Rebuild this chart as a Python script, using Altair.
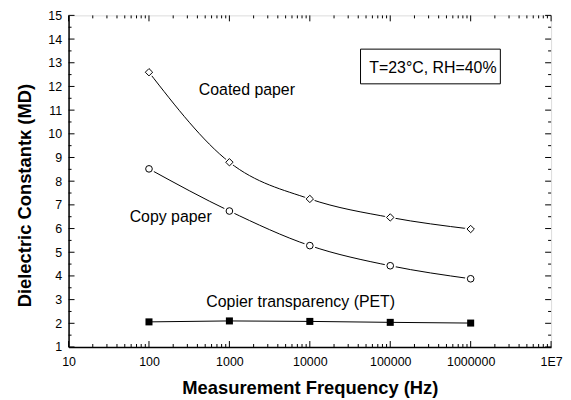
import altair as alt
import pandas as pd

freq = [100, 1000, 10000, 100000, 1000000]
coated = [12.6, 8.8, 7.25, 6.47, 5.98]
copy = [8.52, 6.74, 5.28, 4.43, 3.88]
pet = [2.06, 2.1, 2.08, 2.04, 2.01]

x_major = [10, 100, 1000, 10000, 100000, 1000000, 10000000]
y_major = list(range(1, 16))

ann_text = ["Coated paper", "Copy paper", "Copier transparency (PET)", "T=23°C, RH=40%"]
ann_x = [1650, 186, 7700, 339000]
ann_y = [11.86, 6.49, 2.89, 12.78]
box_x = [42700, 2340000]
box_y = [13.575, 12.11]

W, H = 486, 334
FONT = "Liberation Sans"

xs = alt.Scale(type="log", domain=[10, 1e7])
ys = alt.Scale(domain=[1, 15])

AX = alt.Axis(
    values=x_major, ticks=False, grid=False, title="Measurement Frequency (Hz)",
    labelExpr="datum.value >= 1e7 ? '1E7' : format(datum.value, 'd')",
    labelFont=FONT, labelFontSize=12.5, labelColor="black", labelPadding=9, labelOverlap=False,
    titleFont=FONT, titleFontSize=18.5, titleFontWeight="bold", titleColor="black", titlePadding=10,
    domainColor="black", domainWidth=1.5, labelFlush=False)
AY = alt.Axis(
    values=y_major, ticks=False, grid=False, title="Dielectric Constantκ (MD)",
    labelFont=FONT, labelFontSize=12.5, labelColor="black", labelPadding=7, labelOverlap=False,
    titleFont=FONT, titleFontSize=18.5, titleFontWeight="bold", titleColor="black",
    titleX=-34, titleY=181,
    domainColor="black", domainWidth=1.5)

df_c = pd.DataFrame({"f": freq, "v": coated})
df_p = pd.DataFrame({"f": freq, "v": copy})
df_t = pd.DataFrame({"f": freq, "v": pet})

XN = alt.X("f:Q", scale=xs, axis=AX)
YN = alt.Y("v:Q", scale=ys, axis=AY)

line_c = alt.Chart(df_c).mark_line(interpolate="monotone", color="black", strokeWidth=1).encode(x=XN, y=YN)
line_p = alt.Chart(df_p).mark_line(interpolate="monotone", color="black", strokeWidth=1).encode(x=XN, y=YN)
line_t = alt.Chart(df_t).mark_line(color="black", strokeWidth=1).encode(x=XN, y=YN)

def halo(df, shape, size):
    return alt.Chart(df).mark_point(shape=shape, filled=True, color="white", size=size, opacity=1).encode(x=XN, y=YN)

pt_c = alt.Chart(df_c).mark_point(shape="diamond", fill="white", stroke="black", strokeWidth=1, size=55, opacity=1).encode(x=XN, y=YN)
pt_p = alt.Chart(df_p).mark_point(shape="circle", fill="white", stroke="black", strokeWidth=1, size=45, opacity=1).encode(x=XN, y=YN)
pt_t = alt.Chart(df_t).mark_point(shape="square", filled=True, color="black", size=50, opacity=1).encode(x=XN, y=YN)

# tick marks (inward)
x_minor = [m * d for d in [10, 100, 1000, 10000, 100000, 1000000] for m in range(2, 10)]
df_xmaj = pd.DataFrame({"t": x_major})
df_xmin = pd.DataFrame({"t": x_minor})
y_minor = [v + 0.5 for v in range(1, 15)]
df_ymaj = pd.DataFrame({"t": y_major})
df_ymin = pd.DataFrame({"t": y_minor})

XT = alt.X("t:Q", scale=xs, axis=AX)
YT = alt.Y("t:Q", scale=ys, axis=AY)

def xticks(df, L):
    b = alt.Chart(df).mark_rule(color="black", strokeWidth=1)
    bot = b.encode(x=XT, y=alt.value(H), y2=alt.value(H - L))
    top = b.encode(x=XT, y=alt.value(0), y2=alt.value(L))
    return bot + top

def yticks(df, L):
    b = alt.Chart(df).mark_rule(color="black", strokeWidth=1)
    left = b.encode(y=YT, x=alt.value(0), x2=alt.value(L))
    right = b.encode(y=YT, x=alt.value(W), x2=alt.value(W - L))
    return left + right

df_ann = pd.DataFrame({"x": ann_x, "y": ann_y, "t": ann_text})
txt = alt.Chart(df_ann).mark_text(font=FONT, fontSize=16, color="black").encode(
    x=alt.X("x:Q", scale=xs, axis=AX), y=alt.Y("y:Q", scale=ys, axis=AY), text="t:N")

df_box = pd.DataFrame({"x1": [box_x[0]], "x2": [box_x[1]], "y1": [box_y[0]], "y2": [box_y[1]]})
box = alt.Chart(df_box).mark_rect(fill="white", stroke="black", strokeWidth=1).encode(
    x=alt.X("x1:Q", scale=xs, axis=AX), x2="x2:Q", y=alt.Y("y1:Q", scale=ys, axis=AY), y2="y2:Q")

chart = alt.layer(
    line_c, line_p, line_t,
    halo(df_c, "diamond", 160), halo(df_p, "circle", 130),
    pt_c, pt_p, pt_t,
    xticks(df_xmaj, 6), xticks(df_xmin, 3),
    yticks(df_ymaj, 6), yticks(df_ymin, 3),
    box, txt,
).properties(width=W, height=H, autosize="none",
             padding={"left": 61, "top": 6, "right": 12, "bottom": 58}
).configure_view(stroke="black", strokeWidth=1.5
).configure(background="white")

chart.save("out.html", embed_options={"renderer": "svg", "actions": False})
